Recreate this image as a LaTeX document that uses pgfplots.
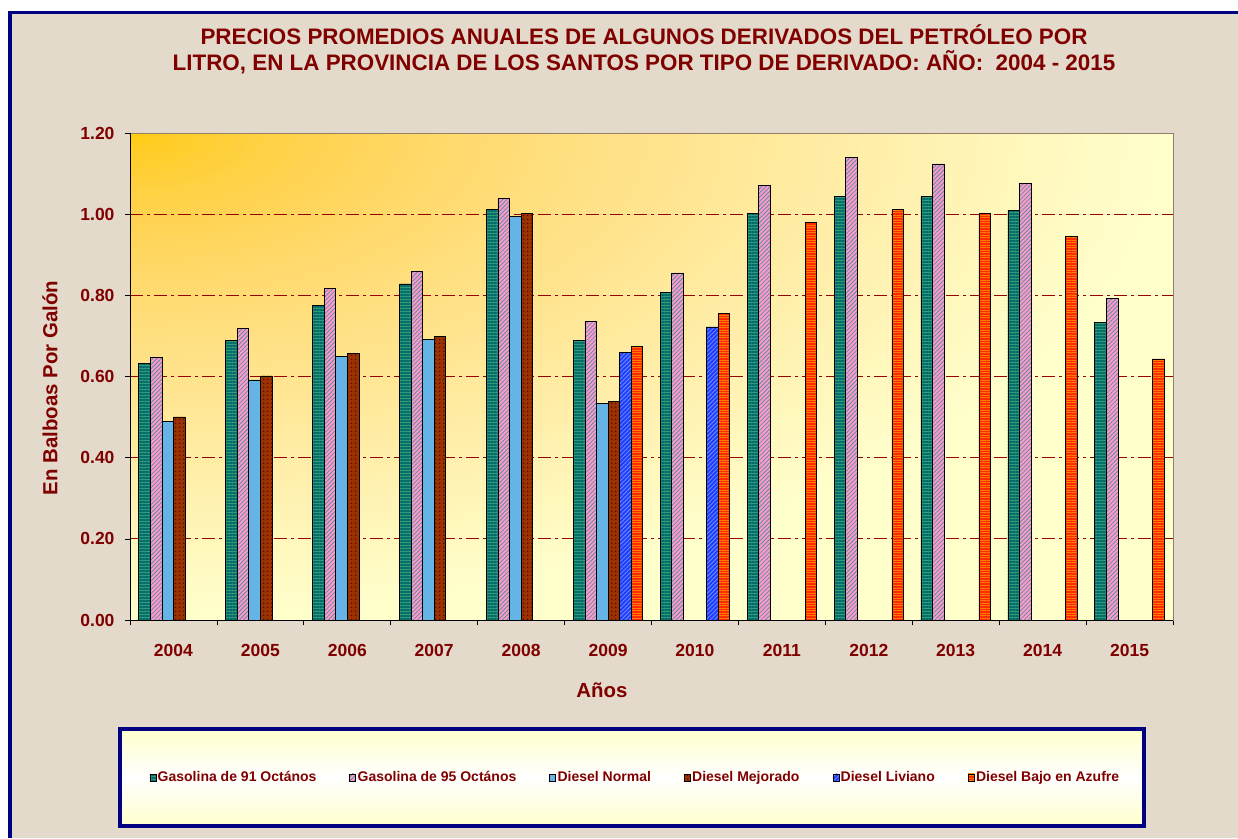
\documentclass[border=0pt]{standalone}
\usepackage{fontspec}
\setmainfont{Liberation Sans}
\usepackage{pgfplots}
\pgfplotsset{compat=1.18}
\usetikzlibrary{patterns.meta}
\definecolor{darkred}{HTML}{800000}
\definecolor{navy}{HTML}{000080}
\definecolor{beige}{HTML}{E3DACB}
\definecolor{gridred}{HTML}{990000}
\definecolor{paleyellow}{HTML}{FFFFCC}
\definecolor{gasA}{HTML}{339977}
\definecolor{gasAline}{HTML}{006B6B}
\definecolor{gasB}{HTML}{FF99CC}
\definecolor{gasBline}{HTML}{5F8F9F}
\definecolor{dnormal}{HTML}{66B3E6}
\definecolor{dmej}{HTML}{993300}
\definecolor{dmejdot}{HTML}{6A0000}
\definecolor{dliv}{HTML}{1F3DFF}
\definecolor{dlivline}{HTML}{6F8FFF}
\definecolor{dbajo}{HTML}{FF2A00}
\definecolor{dbajoline}{HTML}{FF8000}
\begin{document}
\begin{tikzpicture}
\useasboundingbox (-130pt,-218pt) rectangle (1108pt,620pt);
\fill[white] (-130pt,-218pt) rectangle (1108pt,620pt);
\fill[beige] (-122pt,-218pt) rectangle (1108pt,609pt);
\draw[navy, line width=3.5pt] (-120pt,-218pt) -- (-120pt,607.7pt) -- (1108pt,607.7pt);
% plot-area background: gradient from the top-left corner (nested ellipses)
\fill[paleyellow] (0pt,0pt) rectangle (1043pt,486.5pt);
\begin{scope}
\clip (0pt,0pt) rectangle (1043pt,486.5pt);
\foreach \k in {70,69,...,1}{
  \pgfmathsetmacro\t{\k/70}
  \pgfmathsetmacro\g{0.8+0.2*pow(\t,1.15)}
  \pgfmathsetmacro\b{0.8*pow(\t,0.55)}
  \definecolor{cc}{rgb}{1,\g,\b}
  \fill[cc] (0pt,486.5pt) ellipse [x radius=\t*1043pt, y radius=\t*486.5pt];
}
\end{scope}
% legend frame
\shade[top color=paleyellow, bottom color=paleyellow, middle color=white] (-10pt,-109pt) rectangle (1014pt,-206pt);
\draw[navy, line width=3.5pt] (-10pt,-109pt) rectangle (1014pt,-206pt);
% title
\node[anchor=base, text=darkred, font=\fontsize{22.4}{26}\selectfont\bfseries] at (514pt,575pt) {PRECIOS PROMEDIOS ANUALES DE ALGUNOS DERIVADOS DEL PETRÓLEO POR};
\node[anchor=base, text=darkred, font=\fontsize{22.4}{26}\selectfont\bfseries] at (514pt,549.3pt) {LITRO, EN LA PROVINCIA DE LOS SANTOS POR TIPO DE DERIVADO: AÑO:\ \ 2004 - 2015};
\begin{axis}[
  at={(0pt,0pt)}, anchor=south west,
  scale only axis, width=1043pt, height=486.5pt,
  xmin=-0.5, xmax=11.5, ymin=0, ymax=1.2,
  ybar, bar width=0.1333,
  axis line style={draw=black!45!brown!70, line width=0.8pt},
  tick align=outside, tick pos=left,
  major tick length=5pt,
  tick style={draw=black, line width=0.8pt},
  xtick={-0.5,0.5,...,11.5}, xticklabels={,,,,,,,,,,,,,},
  extra x ticks={0,1,2,3,4,5,6,7,8,9,10,11},
  extra x tick labels={2004,2005,2006,2007,2008,2009,2010,2011,2012,2013,2014,2015},
  extra x tick style={tick style={draw=none}, xticklabel style={yshift=-16pt}},
  ytick={0,0.2,0.4,0.6,0.8,1.0,1.2},
  /pgf/number format/assume math mode=true,
  yticklabel style={/pgf/number format/fixed, /pgf/number format/fixed zerofill, /pgf/number format/precision=2, xshift=-7pt},
  tick label style={font=\fontsize{17.5}{17.5}\selectfont\bfseries, text=darkred},
  ymajorgrids,
  major grid style={draw=gridred, line width=1pt, dash pattern=on 13pt off 4pt on 3pt off 4pt},
  xlabel={Años}, ylabel={En Balboas Por Galón},
  label style={font=\fontsize{20.4}{20.4}\selectfont\bfseries, text=darkred},
  xlabel style={at={(axis description cs:0.4525,-0.1439)}, anchor=center},
  ylabel style={at={(axis description cs:-0.0767,0.477)}, anchor=center},
  every axis plot/.append style={draw=black, line width=0.7pt},
  legend image code/.code={\draw[#1] (0pt,-3.5pt) rectangle (6pt,3.5pt);},
  legend columns=6,
  legend style={at={(0.4843,-0.3237)}, anchor=center, draw=none, fill=none,
    font=\fontsize{14}{14}\selectfont\bfseries, text=darkred,
    /tikz/every even column/.append style={column sep=31.5pt},
    nodes={inner sep=1.5pt}},
]
\addplot[fill=gasA, bar shift=-0.3333, postaction={pattern={Lines[angle=0,distance=3pt,line width=1.3pt]}, pattern color=gasAline}] coordinates {
 (0,0.633) (1,0.690) (2,0.776) (3,0.829) (4,1.013) (5,0.690) (6,0.807) (7,1.002) (8,1.044) (9,1.044) (10,1.010) (11,0.735)};
\addlegendentry{Gasolina de 91 Octános}
\addplot[fill=gasB, bar shift=-0.2, postaction={pattern={Lines[angle=45,distance=3pt,line width=0.8pt]}, pattern color=gasBline}] coordinates {
 (0,0.647) (1,0.720) (2,0.817) (3,0.859) (4,1.040) (5,0.737) (6,0.856) (7,1.072) (8,1.142) (9,1.125) (10,1.076) (11,0.793)};
\addlegendentry{Gasolina de 95 Octános}
\addplot[fill=dnormal, bar shift=-0.0667] coordinates {
 (0,0.490) (1,0.592) (2,0.650) (3,0.692) (4,0.995) (5,0.535)};
\addlegendentry{Diesel Normal}
\addplot[fill=dmej, bar shift=0.0667, postaction={pattern={Dots[distance=4pt,radius=1pt]}, pattern color=dmejdot}] coordinates {
 (0,0.501) (1,0.602) (2,0.658) (3,0.700) (4,1.002) (5,0.539)};
\addlegendentry{Diesel Mejorado}
\addplot[fill=dliv, bar shift=0.2, postaction={pattern={Lines[angle=45,distance=3pt,line width=0.8pt]}, pattern color=dlivline}] coordinates {
 (5,0.661) (6,0.723)};
\addlegendentry{Diesel Liviano}
\addplot[fill=dbajo, bar shift=0.3333, postaction={pattern={Lines[angle=0,distance=2.5pt,line width=1pt]}, pattern color=dbajoline}] coordinates {
 (5,0.675) (6,0.756) (7,0.981) (8,1.013) (9,1.002) (10,0.947) (11,0.644)};
\addlegendentry{Diesel Bajo en Azufre}
\draw[black, line width=0.8pt] (rel axis cs:0,1) -- (rel axis cs:0,0) -- (rel axis cs:1,0);
\end{axis}
\end{tikzpicture}
\end{document}
